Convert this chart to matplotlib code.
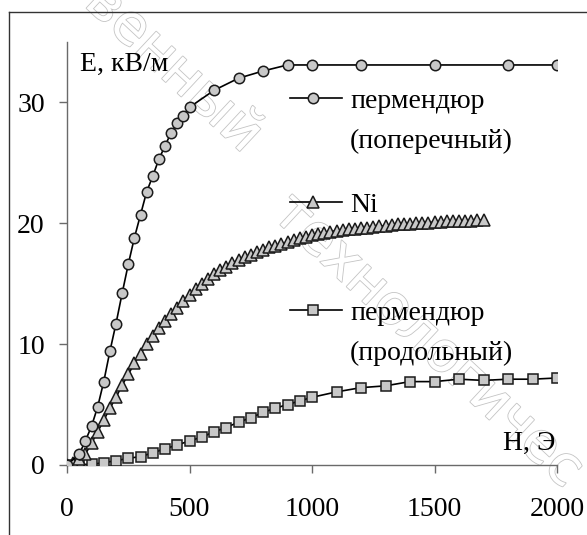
import matplotlib
matplotlib.use('Agg')
import matplotlib.pyplot as plt
import matplotlib.patheffects as pe
from matplotlib.lines import Line2D

plt.rcParams['font.family'] = ['Liberation Serif', 'DejaVu Serif']

# пермендюр (поперечный)
h_pop = [0, 50, 75, 100, 125, 150, 175, 200, 225, 250, 275, 300, 325, 350, 375,
         400, 425, 450, 475, 500, 600, 700, 800, 900, 1000, 1200, 1500, 1800, 2000]
e_pop = [0, 0.9, 2.0, 3.2, 4.8, 6.9, 9.4, 11.7, 14.2, 16.6, 18.8, 20.7, 22.6, 23.9, 25.3,
         26.4, 27.5, 28.3, 28.9, 29.6, 31.0, 32.0, 32.6, 33.1, 33.1, 33.1, 33.1, 33.1, 33.1]

# Ni
h_ni = list(range(0, 1701, 25))
e_ni = [0, 0.2, 0.5, 0.9, 1.8, 2.75, 3.7, 4.7, 5.6, 6.6, 7.5, 8.4, 9.2, 10.0, 10.7,
        11.3, 11.9, 12.5, 13.0, 13.6, 14.1, 14.6, 15.0, 15.4, 15.8, 16.1, 16.4, 16.7,
        17.0, 17.2, 17.4, 17.6, 17.8, 18.0, 18.15, 18.3, 18.45, 18.6, 18.75, 18.85,
        19.0, 19.1, 19.2, 19.3, 19.4, 19.45, 19.5, 19.55, 19.6, 19.65, 19.7, 19.75,
        19.8, 19.85, 19.9, 19.9, 19.95, 20.0, 20.0, 20.05, 20.1, 20.1, 20.15, 20.15,
        20.2, 20.2, 20.2, 20.25, 20.25]

# пермендюр (продольный)
h_prod = [0, 50, 100, 150, 200, 250, 300, 350, 400, 450, 500, 550, 600, 650, 700, 750,
          800, 850, 900, 950, 1000, 1100, 1200, 1300, 1400, 1500, 1600, 1700, 1800, 1900, 2000]
e_prod = [0, 0.05, 0.05, 0.2, 0.35, 0.55, 0.7, 1.0, 1.35, 1.65, 2.0, 2.3, 2.75, 3.1, 3.55, 3.9,
          4.35, 4.7, 5.0, 5.3, 5.6, 6.05, 6.4, 6.55, 6.9, 6.9, 7.1, 7.0, 7.1, 7.1, 7.2]

x_ticks = [0, 500, 1000, 1500, 2000]
y_ticks = [0, 10, 20, 30]

face = '#c8c8c8'
edge = '#1a1a1a'
axcol = '#6a6a6a'
fs = 20

fig = plt.figure(figsize=(5.87, 5.35), dpi=100)
ax = fig.add_axes([67 / 587, 70 / 535, 490 / 587, 423 / 535])
ax.set_zorder(2)

# водяной знак (под графиком)
wm = dict(fontsize=40, family='DejaVu Sans', color='white', rotation=-43,
          ha='center', va='center', zorder=-1,
          path_effects=[pe.withStroke(linewidth=1.2, foreground='#c4c4c4')])
fig.text(0.295, 0.872, 'венный', **wm)
fig.text(0.728, 0.362, 'технологичес', **wm)

# рамка
x0 = 9 / 587
y1 = 1 - 12 / 535
fig.add_artist(Line2D([x0, x0], [0, y1], transform=fig.transFigure, color='#333333', lw=1.0))
fig.add_artist(Line2D([x0, 1], [y1, y1], transform=fig.transFigure, color='#333333', lw=1.0))

common = dict(color='black', lw=1.2, mfc=face, mec=edge, mew=1.1)
ax.plot(h_prod, e_prod, marker='s', ms=7.5, **common, zorder=3)
ax.plot(h_ni, e_ni, marker='^', ms=8.5, **common, zorder=4)
ax.plot(h_pop, e_pop, marker='o', ms=7.5, **common, zorder=5)

ax.set_xlim(0, 2000)
ax.set_ylim(0, 35)
ax.set_xticks(x_ticks)
ax.set_yticks(y_ticks)
ax.patch.set_alpha(0)
for s in ['top', 'right']:
    ax.spines[s].set_visible(False)
for s in ['left', 'bottom']:
    ax.spines[s].set_color(axcol)
    ax.spines[s].set_linewidth(1.0)
ax.tick_params(axis='both', colors=axcol, labelcolor='black', labelsize=fs,
               length=6, width=1.0, direction='out')
ax.tick_params(axis='y', pad=10)
ax.tick_params(axis='x', pad=17)

# легенда
legend_items = [
    ('o', 7.5, 0.8676, ['пермендюр', '(поперечный)']),
    ('^', 8.5, 0.6217, ['Ni']),
    ('s', 7.5, 0.3664, ['пермендюр', '(продольный)']),
]
for mk, ms, yy, lines in legend_items:
    ax.plot([0.455, 0.561], [yy, yy], transform=ax.transAxes, color='black',
            lw=1.2, clip_on=False)
    ax.plot([0.502], [yy], transform=ax.transAxes, marker=mk, ms=ms, mfc=face,
            mec=edge, mew=1.1, clip_on=False)
    for i, t in enumerate(lines):
        ax.text(0.578, yy - i * 0.0946, t, transform=ax.transAxes, fontsize=fs,
                ha='left', va='center_baseline')

ax.text(0.027, 0.953, 'E, кВ/м', transform=ax.transAxes, fontsize=fs,
        ha='left', va='center_baseline')
ax.text(0.996, 0.059, 'H, Э', transform=ax.transAxes, fontsize=fs,
        ha='right', va='center_baseline')

fig.savefig('out.png', dpi=100)
